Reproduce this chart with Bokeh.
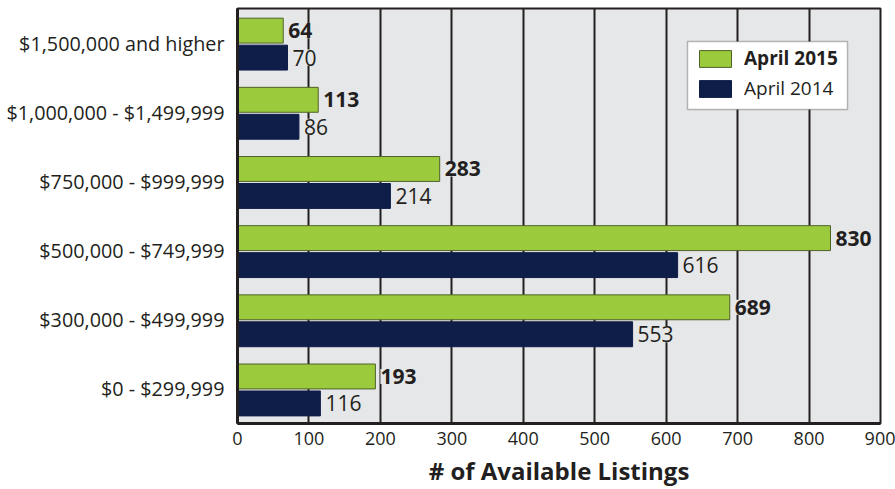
from bokeh.plotting import figure
from bokeh.models import (FactorRange, Range1d, ColumnDataSource, LabelSet, Legend,
                          LegendItem, BoxAnnotation, FixedTicker)
from bokeh.core.properties import value
from bokeh.transform import dodge
from bokeh.embed import file_html
from bokeh.resources import INLINE

categories = ["$0 - $299,999", "$300,000 - $499,999", "$500,000 - $749,999",
              "$750,000 - $999,999", "$1,000,000 - $1,499,999", "$1,500,000 and higher"]
april_2015 = [193, 689, 830, 283, 113, 64]
april_2014 = [116, 553, 616, 214, 86, 70]
series_names = ["April 2015", "April 2014"]
x_ticks = [0, 100, 200, 300, 400, 500, 600, 700, 800, 900]
x_title = "# of Available Listings"

GREEN = "#9bcb3c"
NAVY = "#0e1e48"
BG = "#e6e7e8"
INK = "#231f20"
FONT = "Open Sans"

src = ColumnDataSource(dict(
    cat=categories, v15=april_2015, v14=april_2014,
    t15=[str(v) for v in april_2015], t14=[str(v) for v in april_2014]))

p = figure(width=895, height=489, y_range=FactorRange(*categories),
           x_range=Range1d(0, 900), output_backend="svg", toolbar_location=None,
           min_border_left=237, min_border_right=15, min_border_top=8,
           min_border_bottom=65)

p.background_fill_color = BG
p.border_fill_color = "white"
p.outline_line_color = INK
p.outline_line_width = 2

r15 = p.hbar(y=dodge("cat", 0.18, range=p.y_range), right="v15", height=0.36,
             left=0, source=src, fill_color=GREEN, line_color="#4f6128", line_width=1)
r14 = p.hbar(y=dodge("cat", -0.21, range=p.y_range), right="v14", height=0.36,
             left=0, source=src, fill_color=NAVY, line_color=NAVY, line_width=1)

lab15 = LabelSet(x="v15", y=dodge("cat", 0.18, range=p.y_range), text="t15", source=src,
                 x_offset=5, text_baseline="middle", text_font=value(FONT),
                 text_font_size="21px", text_font_style="bold", text_color=INK,
                 background_fill_color=BG)
lab14 = LabelSet(x="v14", y=dodge("cat", -0.21, range=p.y_range), text="t14", source=src,
                 x_offset=5, text_baseline="middle", text_font=value(FONT),
                 text_font_size="21px", text_color=INK, background_fill_color=BG)
p.add_layout(lab15)
p.add_layout(lab14)

# grid
p.ygrid.grid_line_color = None
p.xgrid.ticker = FixedTicker(ticks=x_ticks)
p.xgrid.grid_line_color = INK
p.xgrid.grid_line_width = 2
p.xgrid.grid_line_alpha = 1

# axes
p.xaxis.ticker = FixedTicker(ticks=x_ticks)
for ax in (p.xaxis[0], p.yaxis[0]):
    ax.axis_line_color = INK
    ax.axis_line_width = 3
    ax.major_tick_line_color = None
    ax.minor_tick_line_color = None
    ax.major_label_text_font = FONT
    ax.major_label_text_color = INK
p.yaxis.major_label_text_font_size = "19.8px"
p.yaxis.major_label_standoff = 7
p.xaxis.major_label_text_font_size = "18px"
p.xaxis.major_label_standoff = 2
p.xaxis.axis_label = x_title
p.xaxis.axis_label_text_font = FONT
p.xaxis.axis_label_text_font_size = "24px"
p.xaxis.axis_label_text_font_style = "bold"
p.xaxis.axis_label_text_color = INK
p.xaxis.axis_label_standoff = 6

# legend frame + two legends (first bold)
frame_box = BoxAnnotation(left=450, right=610, top=382, bottom=314,
                          left_units="screen", right_units="screen",
                          top_units="screen", bottom_units="screen",
                          fill_color="white", fill_alpha=1,
                          line_color=INK, line_width=1.5)
p.add_layout(frame_box)

common = dict(border_line_color=None, background_fill_alpha=0, glyph_width=40,
              glyph_height=21, label_standoff=9, padding=0, margin=0, spacing=0,
              label_text_font=FONT, label_text_font_size="19px",
              label_text_color=INK, label_height=21)
leg15 = Legend(items=[LegendItem(label=series_names[0], renderers=[r15])],
               location=(458, 352), label_text_font_style="bold", **common)
leg14 = Legend(items=[LegendItem(label=series_names[1], renderers=[r14])],
               location=(458, 322), **common)
p.add_layout(leg15)
p.add_layout(leg14)

open("out.html", "w").write(file_html(p, INLINE))
